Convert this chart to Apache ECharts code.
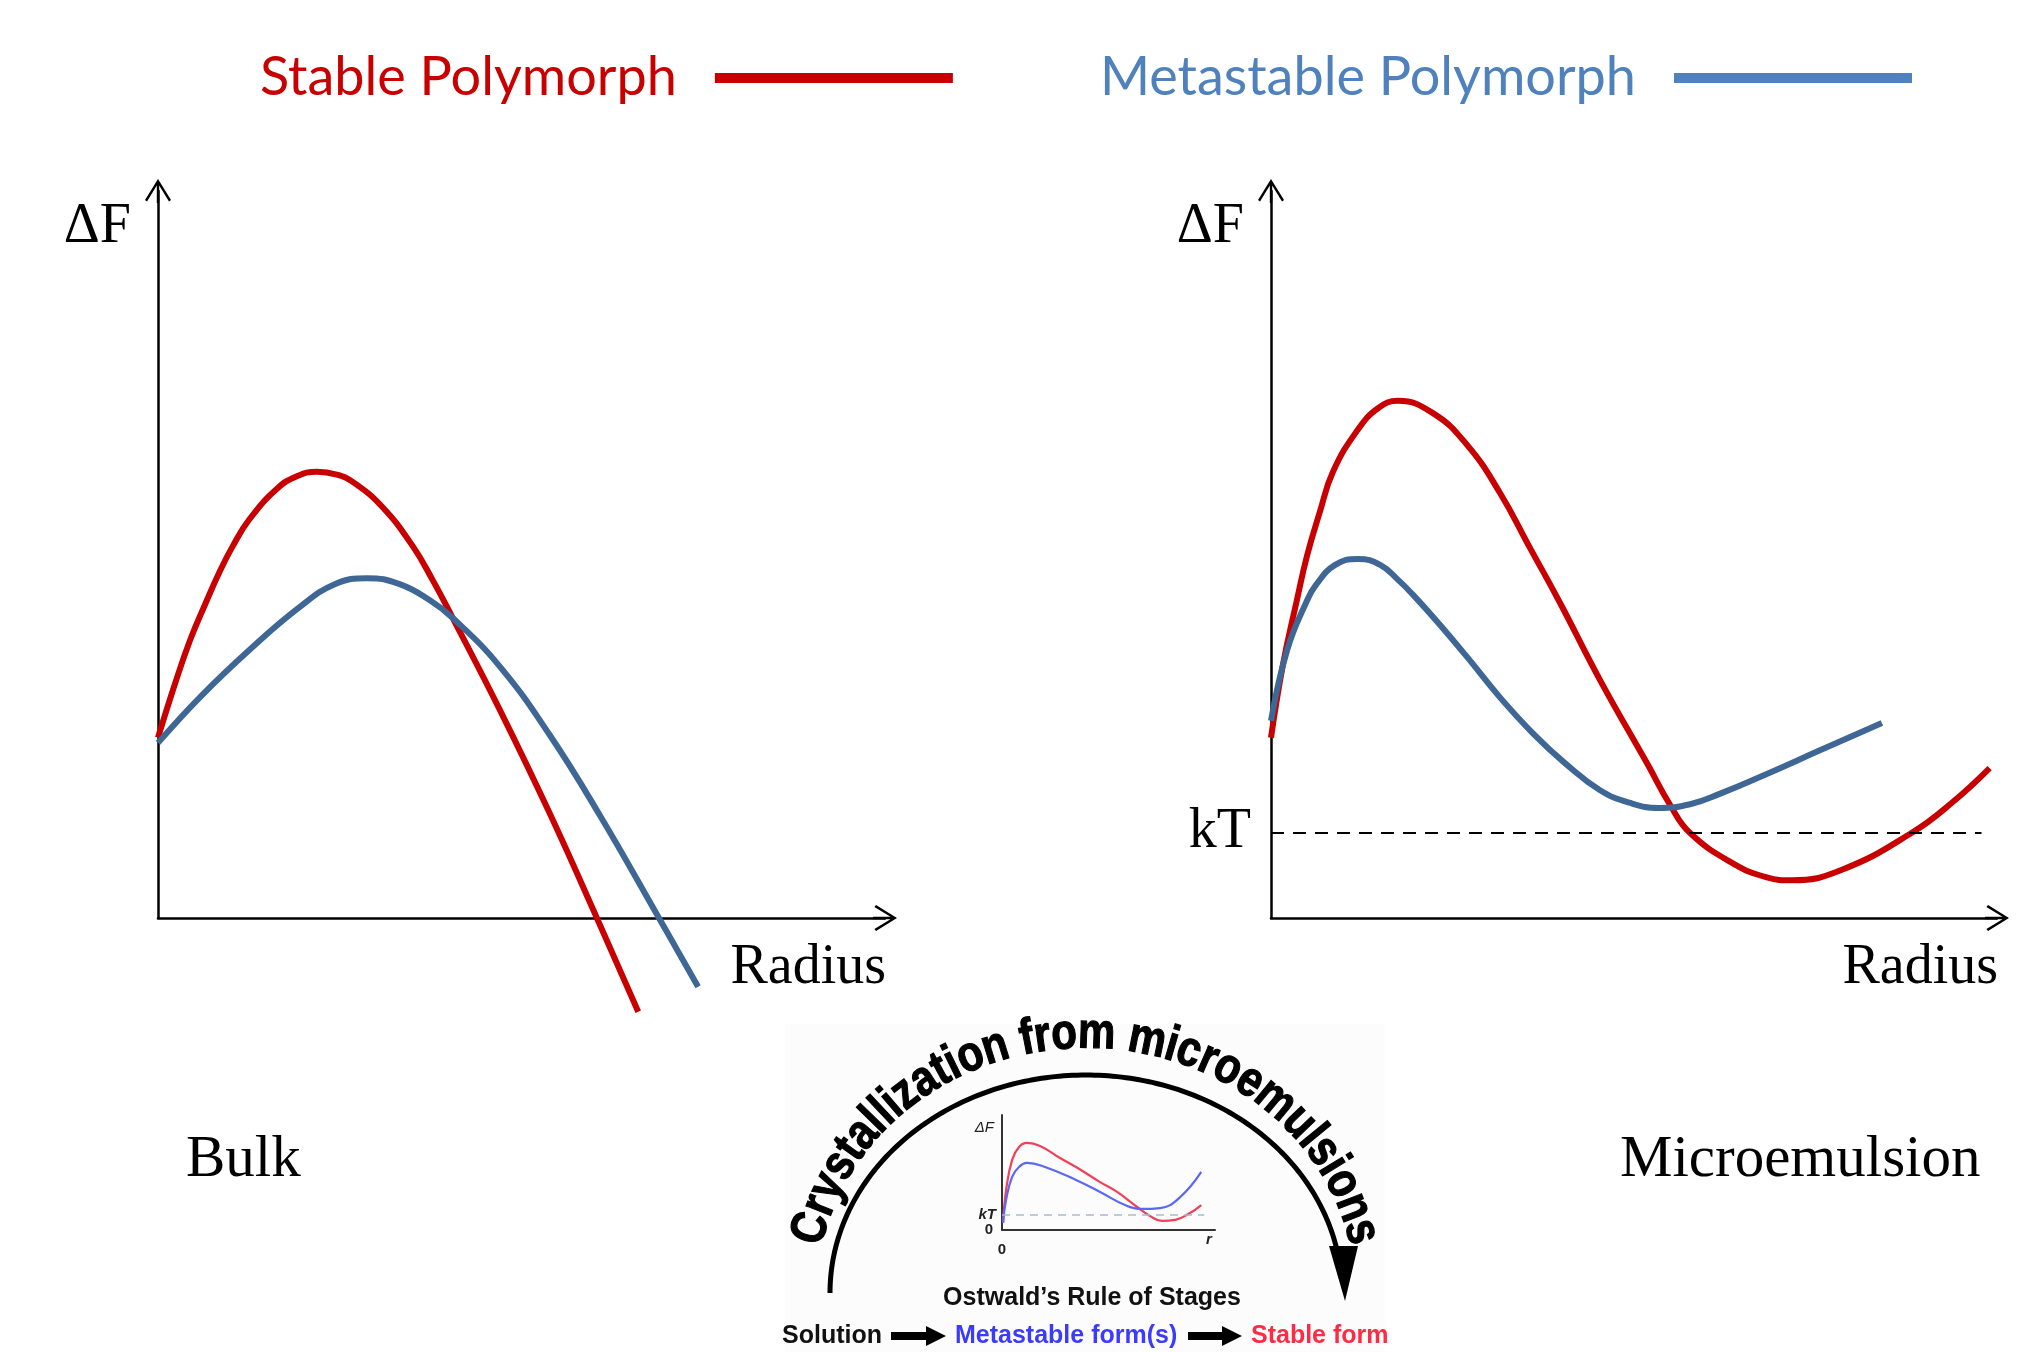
<!DOCTYPE html>
<html><head><meta charset="utf-8">
<script src="https://cdn.jsdelivr.net/npm/echarts@6/dist/echarts.min.js"></script>
<style>html,body{margin:0;padding:0;background:#fff}#c{width:2018px;height:1352px}</style>
</head><body><div id="c"></div>
<script>
// ---------- Data (abstract units: radius, free energy) ----------
const bulkStableR = [0, 0.23, 0.43, 0.64, 0.84, 1.01, 1.24, 1.61, 1.88, 2.15, 2.42, 2.64, 3.04, 3.45, 3.72, 3.99, 4.63, 5.30, 5.94, 6.50];
const bulkStableF = [2.44, 3.17, 3.75, 4.25, 4.70, 5.03, 5.40, 5.81, 5.98, 6.04, 6.00, 5.90, 5.56, 5.03, 4.57, 4.06, 2.81, 1.42, 0, -1.27];
const bulkMetaR = [0, 0.57, 1.24, 1.92, 2.40, 2.83, 3.27, 3.68, 3.99, 4.63, 5.30, 5.98, 6.78, 7.31];
const bulkMetaF = [2.37, 2.99, 3.63, 4.21, 4.52, 4.60, 4.52, 4.30, 4.06, 3.40, 2.48, 1.39, 0, -0.93];
const microStableR = [0, 0.16, 0.35, 0.49, 0.66, 0.84, 1.17, 1.45, 1.72, 2.20, 2.66, 3.10, 3.51, 3.92, 4.46, 5.11, 5.41, 5.68, 6.26, 6.72, 7.06, 7.73, 8.68, 9.24, 9.74];
const microStableF = [2.44, 3.42, 4.30, 4.91, 5.49, 6.04, 6.60, 6.90, 7.00, 6.83, 6.40, 5.76, 5.01, 4.26, 3.22, 2.07, 1.53, 1.15, 0.74, 0.55, 0.51, 0.65, 1.15, 1.57, 2.03];
const microMetaR = [0, 0.22, 0.49, 0.61, 0.87, 1.18, 1.48, 1.73, 1.92, 2.28, 2.66, 3.10, 3.55, 3.98, 4.46, 4.86, 5.26, 5.68, 6.08, 6.72, 7.44, 8.28];
const microMetaF = [2.67, 3.63, 4.30, 4.51, 4.78, 4.86, 4.78, 4.57, 4.38, 3.98, 3.53, 2.99, 2.50, 2.10, 1.73, 1.56, 1.49, 1.54, 1.68, 1.95, 2.27, 2.64];
const kTLevel = 1.16;
const kTEnd = 9.63;
// inset (Ostwald's rule graphic)
const insetStableR = [0.05, 0.19, 0.47, 0.79, 1.16, 1.77, 2.70, 3.44, 4.56, 5.35, 6.28, 6.88, 7.44, 8.05, 8.74, 9.26];
const insetStableF = [0.33, 1.86, 3.26, 3.86, 4.05, 3.91, 3.35, 2.93, 2.23, 1.77, 1.07, 0.65, 0.42, 0.47, 0.79, 1.16];
const insetMetaR = [0.05, 0.19, 0.47, 0.79, 1.16, 2.00, 3.44, 4.56, 5.72, 6.47, 7.35, 8.28, 9.26];
const insetMetaF = [0.33, 1.40, 2.47, 2.93, 3.12, 2.93, 2.33, 1.77, 1.16, 0.98, 1.02, 1.53, 2.70];
const insetKT = 0.70;
const insetKTEnd = 9.4;
const legendNames = ['Stable Polymorph', 'Metastable Polymorph'];
const panelTitles = ['Bulk', 'Microemulsion'];
const arcTitle = 'Crystallization from microemulsions';
const ruleTitle = 'Ostwald\u2019s Rule of Stages';
const stages = ['Solution', 'Metastable form(s)', 'Stable form'];

// ---------- Styles ----------
const RED = '#C80000', BLUE = '#3E6796', LRED = '#C80000', LBLUE = '#4F81BD';
const SERIF = '"Liberation Serif","DejaVu Serif",serif';
const SANS = '"Liberation Sans",Arial,sans-serif';
const arrowPath = 'path://M13,0 L26,21 L24,22.6 L14.2,6.5 L14.2,24 L11.8,24 L11.8,6.5 L2,22.6 L0,21 Z';

const zip = (a, b) => a.map((v, i) => [v, b[i]]);

function mainAxes(grid) {
  const common = {
    gridIndex: grid, type: 'value', min: 0, max: 9.84,
    axisTick: {show: false}, axisLabel: {show: false}, splitLine: {show: false},
    axisLine: {show: true, onZero: false, symbol: ['none', arrowPath], symbolSize: [26, 24],
      lineStyle: {color: '#000', width: 2.5}}
  };
  return {
    x: Object.assign({}, common, {name: '\nRadius', nameLocation: 'end', nameGap: 1,
      nameTextStyle: {fontFamily: SERIF, fontSize: 56, lineHeight: 100, color: '#000', align: 'right', verticalAlign: 'middle'}}),
    y: Object.assign({}, common, {name: '\u0394F', nameLocation: 'end', nameGap: -36,
      nameTextStyle: {fontFamily: SERIF, fontSize: 56, color: '#000', align: 'right', verticalAlign: 'middle', padding: [0, 27, 0, 0]}})
  };
}
const a0 = mainAxes(0), a1 = mainAxes(1);

function curve(name, xi, data, color, width) {
  return {type: 'line', name, xAxisIndex: xi, yAxisIndex: xi, data, smooth: 0.45, showSymbol: false, clip: false,
    lineStyle: {color, width, cap: 'butt', join: 'round'}, itemStyle: {color}, silent: true, z: 3};
}

const series = [
  curve(legendNames[0], 0, zip(bulkStableR, bulkStableF), RED, 6),
  curve(legendNames[1], 0, zip(bulkMetaR, bulkMetaF), BLUE, 6),
  Object.assign(curve(legendNames[0], 1, zip(microStableR, microStableF), RED, 6), {
    markLine: {silent: true, symbol: 'none', animation: false,
      lineStyle: {type: [13, 9], color: '#000', width: 2},
      label: {position: 'start', formatter: 'kT', distance: 20, fontFamily: SERIF, fontSize: 56, color: '#000'},
      data: [[{coord: [0, kTLevel]}, {coord: [kTEnd, kTLevel]}]]}
  }),
  curve(legendNames[1], 1, zip(microMetaR, microMetaF), BLUE, 6),
  Object.assign(curve('inset stable', 2, zip(insetStableR, insetStableF), '#F2405A', 2.2), {
    markLine: {silent: true, symbol: 'none', animation: false,
      lineStyle: {type: [8, 6], color: '#A9B9C9', width: 1.6},
      label: {position: 'start', formatter: 'kT', distance: 6, fontFamily: SANS, fontSize: 15, fontStyle: 'italic', fontWeight: 'bold', color: '#222'},
      data: [[{coord: [0, insetKT]}, {coord: [insetKTEnd, insetKT]}]]}
  }),
  curve('inset metastable', 2, zip(insetMetaR, insetMetaF), '#5A68F5', 2.2)
];

// ---------- Decorative inset graphic ----------
const graphic = [];
graphic.push({type: 'rect', z: 0, shape: {x: 785, y: 1024, width: 600, height: 328}, style: {fill: '#fcfcfc'}, silent: true});

// black arc with arrow head
(function () {
  const cx = 1086, cy = 1293, rx = 256, ry = 218;
  const pts = [];
  for (let d = 180; d >= 11; d -= 1) {
    const t = d * Math.PI / 180;
    pts.push([cx + rx * Math.cos(t), cy - ry * Math.sin(t)]);
  }
  graphic.push({type: 'polyline', z: 5, shape: {points: pts}, style: {stroke: '#000', lineWidth: 5, fill: null}, silent: true});
  graphic.push({type: 'polygon', z: 5, shape: {points: [[1329, 1246], [1358, 1246], [1345, 1301]]}, style: {fill: '#000'}, silent: true});
})();

// curved bold title along the arc
(function () {
  const font = 'bold 50px "Liberation Sans"';
  const sx = 0.84;
  const ctx = document.createElement('canvas').getContext('2d');
  ctx.font = font;
  const chars = Array.from(arcTitle);
  const widths = chars.map(c => ctx.measureText(c).width * sx);
  const total = widths.reduce((s, w) => s + w, 0);
  const cx = 1086, cy = 1293, rx = 283, ry = 259;
  const t0 = 169 * Math.PI / 180, t1 = 11 * Math.PI / 180;
  const N = 3000, ts = [], ls = [0];
  for (let i = 0; i <= N; i++) ts.push(t0 + (t1 - t0) * i / N);
  for (let i = 1; i <= N; i++) {
    const dx = rx * (Math.cos(ts[i]) - Math.cos(ts[i - 1]));
    const dy = ry * (Math.sin(ts[i]) - Math.sin(ts[i - 1]));
    ls.push(ls[i - 1] + Math.hypot(dx, dy));
  }
  const L = ls[N], k = L / total;
  let acc = 0, j = 0;
  chars.forEach((c, i) => {
    const s = (acc + widths[i] / 2) * k;
    acc += widths[i];
    while (j < N && ls[j + 1] < s) j++;
    const t = ts[j];
    const x = cx + rx * Math.cos(t), y = cy - ry * Math.sin(t);
    const phi = Math.atan2(ry * Math.cos(t), rx * Math.sin(t));
    graphic.push({type: 'text', z: 6, x, y, rotation: -phi, scaleX: sx, silent: true,
      style: {text: c, font, fill: '#000', stroke: '#000', lineWidth: 1.2, align: 'center', verticalAlign: 'middle'}});
  });
})();

graphic.push({type: 'text', z: 6, x: 1092, y: 1298, silent: true,
  style: {text: ruleTitle, font: 'bold 25px "Liberation Sans"', fill: '#111', align: 'center', verticalAlign: 'middle'}});

function fatArrow(x0, x1, y) {
  return {type: 'polygon', z: 6, silent: true, style: {fill: '#000'},
    shape: {points: [[x0, y - 4], [x1 - 20, y - 4], [x1 - 20, y - 10], [x1, y], [x1 - 20, y + 10], [x1 - 20, y + 4], [x0, y + 4]]}};
}
graphic.push({type: 'text', z: 6, x: 782, y: 1336, silent: true, style: {text: stages[0], font: 'bold 25px "Liberation Sans"', fill: '#111', align: 'left', verticalAlign: 'middle'}});
graphic.push(fatArrow(891, 946, 1336));
graphic.push({type: 'text', z: 6, x: 955, y: 1336, silent: true, style: {text: stages[1], font: 'bold 25px "Liberation Sans"', fill: '#3B3BFF', align: 'left', verticalAlign: 'middle'}});
graphic.push(fatArrow(1188, 1242, 1336));
graphic.push({type: 'text', z: 6, x: 1251, y: 1336, silent: true, style: {text: stages[2], font: 'bold 25px "Liberation Sans"', fill: '#FF2B45', align: 'left', verticalAlign: 'middle'}});

const zeroOnly = v => (v === 0 ? '0' : '');

function legendFor(name, color, left) {
  return {
    orient: 'horizontal', left, top: 51, padding: 0, icon: 'rect', align: 'right',
    itemWidth: 238, itemHeight: 10, selectedMode: false,
    textStyle: {fontFamily: 'Lato', fontSize: 54, padding: [0, 33, 0, 0], color},
    data: [{name, itemStyle: {color}, textStyle: {color}}]
  };
}

const option = {
  animation: false,
  backgroundColor: '#fff',
  title: [
    {text: panelTitles[0], left: 186, top: 1131, padding: 0, textStyle: {fontFamily: SERIF, fontSize: 59, fontWeight: 'normal', color: '#000'}},
    {text: panelTitles[1], left: 1620, top: 1131, padding: 0, textStyle: {fontFamily: SERIF, fontSize: 59, fontWeight: 'normal', color: '#000'}}
  ],
  legend: [legendFor(legendNames[0], LRED, 260), legendFor(legendNames[1], LBLUE, 1100)],
  grid: [
    {left: 158, top: 191, width: 727, height: 727},
    {left: 1271, top: 191, width: 726, height: 727},
    {left: 1002, top: 1115, width: 213, height: 115}
  ],
  xAxis: [a0.x, a1.x, {
    gridIndex: 2, type: 'value', min: 0, max: 9.9, splitLine: {show: false}, axisTick: {show: false},
    axisLine: {onZero: false, lineStyle: {color: '#333', width: 2}},
    axisLabel: {formatter: zeroOnly, margin: 12, fontFamily: SANS, fontWeight: 'bold', fontSize: 15, color: '#222'},
    name: '\nr', nameLocation: 'end', nameGap: -6,
    nameTextStyle: {fontFamily: SANS, fontStyle: 'italic', fontWeight: 'bold', fontSize: 15, lineHeight: 20, color: '#222', align: 'center', verticalAlign: 'middle'}
  }],
  yAxis: [a0.y, a1.y, {
    gridIndex: 2, type: 'value', min: 0, max: 5.35, splitLine: {show: false}, axisTick: {show: false},
    axisLine: {onZero: false, lineStyle: {color: '#333', width: 2}},
    axisLabel: {formatter: zeroOnly, margin: 9, fontFamily: SANS, fontWeight: 'bold', fontSize: 15, color: '#222'},
    name: '\u0394F', nameLocation: 'end', nameGap: -13,
    nameTextStyle: {fontFamily: SANS, fontStyle: 'italic', fontSize: 15, color: '#222', align: 'right', verticalAlign: 'middle', padding: [0, 8, 0, 0]}
  }],
  series,
  graphic
};

const chart = echarts.init(document.getElementById('c'), null, {renderer: 'canvas', width: 2018, height: 1352});
chart.setOption(option);
</script>
</body></html>
